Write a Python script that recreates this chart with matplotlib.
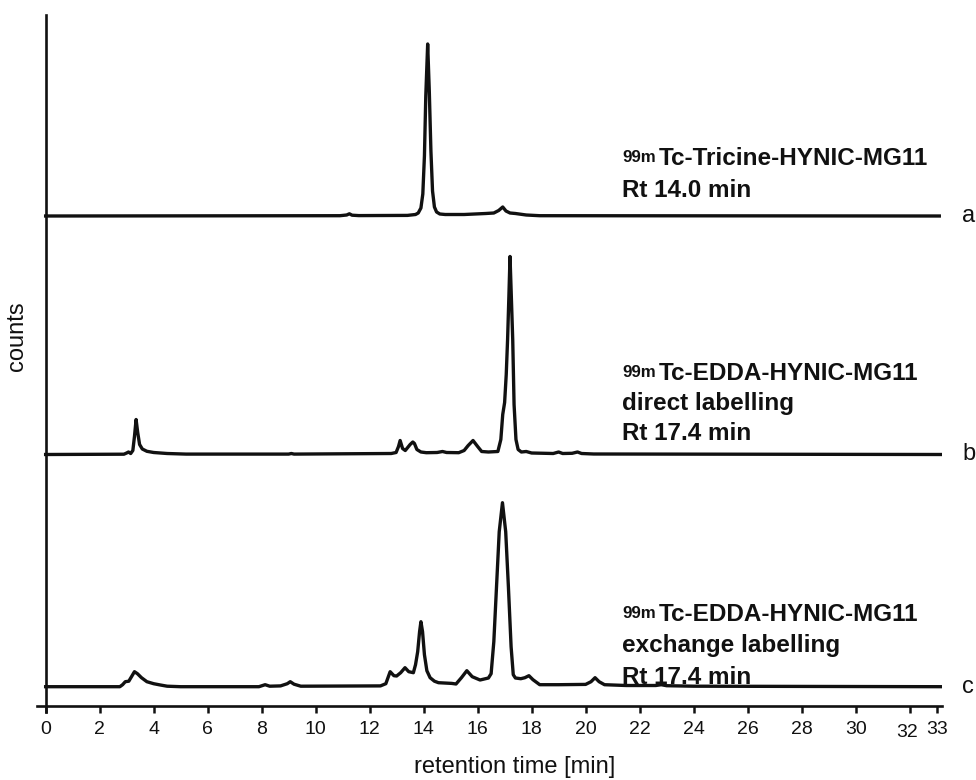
import numpy as np
import matplotlib
matplotlib.use("Agg")
import matplotlib.pyplot as plt
import matplotlib.transforms as mtransforms

# chromatograms: (retention time [min], counts, arbitrary units)
trace_a = [
    (0, 0), (10.9, 0.3), (11.15, 1), (11.25, 2.2), (11.35, 0.8), (11.6, 0.4),
    (13.4, 0.6), (13.7, 1.5), (13.8, 3), (13.9, 8), (13.97, 22), (14.03, 60),
    (14.08, 120), (14.15, 172), (14.21, 125), (14.27, 65), (14.33, 25),
    (14.4, 9), (14.48, 4), (14.6, 2), (14.8, 1.5), (15.5, 1.5), (16.3, 2.5),
    (16.6, 3), (16.78, 5.5), (16.93, 9), (17.05, 5), (17.2, 3), (17.4, 2.5),
    (17.8, 1), (18.3, 0.3), (33.1, 0),
]
trace_b = [
    (0, 0), (2.9, 0.3), (3.0, 1.5), (3.07, 2.5), (3.15, 1), (3.23, 4),
    (3.29, 18), (3.35, 35), (3.41, 22), (3.48, 10), (3.58, 5.5), (3.75, 3.2),
    (4.0, 2), (4.5, 1), (5.2, 0.4), (9.0, 0.4), (9.1, 1), (9.2, 0.4),
    (12.8, 1), (12.98, 2), (13.07, 8), (13.13, 14), (13.22, 6), (13.32, 4),
    (13.5, 10), (13.6, 12.5), (13.66, 11), (13.75, 5), (13.9, 2.5), (14.1, 1.8),
    (14.5, 2), (14.7, 3), (14.85, 2), (15.3, 1.8), (15.5, 4), (15.65, 9),
    (15.83, 14), (16.0, 8), (16.15, 3), (16.4, 2.5), (16.75, 3), (16.86, 15),
    (16.93, 40), (17.0, 52), (17.06, 80), (17.11, 115), (17.16, 160),
    (17.2, 198), (17.24, 165), (17.3, 115), (17.35, 50), (17.42, 15),
    (17.5, 5), (17.62, 2.5), (17.8, 3), (18.0, 1.5), (18.8, 1), (19.0, 2.5),
    (19.15, 1), (19.5, 1.2), (19.7, 2.5), (19.85, 1), (20.3, 0.5), (33.15, 0),
]
trace_c = [
    (0, 0), (2.75, 0), (2.85, 2), (2.95, 5), (3.08, 5.5), (3.18, 10),
    (3.29, 15), (3.4, 13), (3.55, 9), (3.75, 5), (4.0, 3), (4.25, 1.7),
    (4.5, 0.5), (5.0, 0), (7.9, 0), (8.13, 2), (8.3, 0.5), (8.7, 0.8),
    (8.95, 3), (9.06, 5), (9.2, 2.5), (9.45, 0.5), (12.4, 0.8), (12.6, 3),
    (12.76, 15), (12.9, 11), (13.0, 10.7), (13.15, 14), (13.31, 19),
    (13.45, 15), (13.62, 14), (13.7, 22), (13.78, 35), (13.85, 55), (13.9, 65),
    (13.96, 55), (14.03, 32), (14.12, 16), (14.24, 9), (14.4, 5.5), (14.55, 4),
    (15.04, 3.3), (15.2, 2.7), (15.4, 9), (15.6, 16), (15.8, 10), (16.09, 6.7),
    (16.4, 8.7), (16.5, 13), (16.6, 45), (16.7, 100), (16.8, 155),
    (16.92, 184), (17.04, 155), (17.14, 100), (17.24, 40), (17.32, 12),
    (17.4, 8.7), (17.6, 8), (17.75, 9), (17.9, 11), (18.05, 7), (18.3, 2),
    (19.0, 2), (20.0, 2.3), (20.2, 5), (20.35, 9), (20.5, 5), (20.7, 2),
    (21.5, 1.2), (22.6, 1.2), (22.8, 2), (23.0, 1), (24.0, 0.5), (33.2, 0),
]

trace_names = ["a", "b", "c"]
compound_lines = [
    ["Tc-Tricine-HYNIC-MG11", "Rt 14.0 min"],
    ["Tc-EDDA-HYNIC-MG11", "direct labelling", "Rt 17.4 min"],
    ["Tc-EDDA-HYNIC-MG11", "exchange labelling", "Rt 17.4 min"],
]
x_ticks = [0, 2, 4, 6, 8, 10, 12, 14, 16, 18, 20, 22, 24, 26, 28, 30, 32, 33]
x_tick_labels = [str(t) for t in x_ticks]


def main():
    plt.rcParams["font.family"] = ["Liberation Sans", "DejaVu Sans"]
    ink = "#111111"

    fig = plt.figure(figsize=(9.76, 7.8), dpi=100)
    ax = fig.add_axes([37 / 976, 68 / 780, 905 / 976, 697 / 780])

    offsets = [564, 325.5, 93.3]  # vertical stacking of the three runs
    text_base = [[615, 583], [400, 370, 340], [159, 128, 96.5]]

    for trace, off, name, lines, ys in zip(
        [trace_a, trace_b, trace_c], offsets, trace_names, compound_lines, text_base
    ):
        t, h = np.array(trace).T
        ax.plot(t, h + off, color=ink, lw=2.4, solid_joinstyle="round")
        ax.text(33.95, off, name, fontsize=17, ha="left", va="center",
                color=ink, clip_on=False)
        ax.text(21.35, ys[0] + 3, "99m", fontsize=12.2, fontweight="bold",
                ha="left", va="baseline", color=ink)
        ax.text(22.7, ys[0], lines[0], fontsize=17.5, fontweight="bold",
                ha="left", va="baseline", color=ink)
        for line, y in zip(lines[1:], ys[1:]):
            ax.text(21.35, y, line, fontsize=17.5, fontweight="bold",
                    ha="left", va="baseline", color=ink)

    ax.set_xlim(-0.32, 33.2)
    ax.set_ylim(68, 765)
    ax.spines["top"].set_visible(False)
    ax.spines["right"].set_visible(False)
    ax.spines["left"].set_position(("data", 0))
    ax.spines["bottom"].set_position(("data", 74.5))
    for s in ("left", "bottom"):
        ax.spines[s].set_linewidth(1.9)
        ax.spines[s].set_color(ink)

    ax.set_xticks(x_ticks, labels=x_tick_labels)
    ax.set_yticks([])
    ax.tick_params(axis="x", direction="out", length=5, width=1.8,
                   color=ink, labelsize=14, pad=6, labelcolor=ink)
    for lab in ax.get_xticklabels():
        if lab.get_text() == "32":
            lab.set_transform(lab.get_transform() + mtransforms.ScaledTranslation(
                -1.5 / 72, -2 / 72, fig.dpi_scale_trans))

    fig.text(515 / 976, 1 - 767 / 780, "retention time [min]", fontsize=17,
             ha="center", va="center", color=ink)
    fig.text(17.5 / 976, 1 - 336 / 780, "counts", fontsize=17, rotation=90,
             ha="center", va="center", color=ink)

    fig.savefig("out.png", dpi=100)


if __name__ == "__main__":
    main()
